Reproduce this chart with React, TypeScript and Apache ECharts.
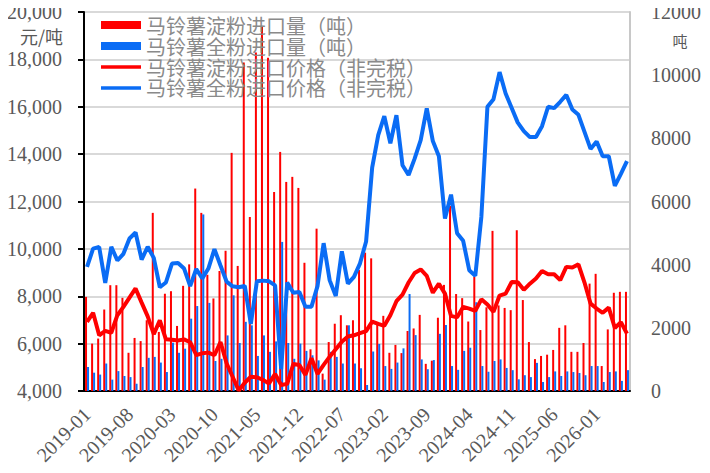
import React, { useEffect, useRef } from "react";
import * as echarts from "echarts";

// monthly categories 2019-01 .. 2026-06
const months: string[] = [];
for (let y = 2019; y <= 2026; y++) {
  for (let m = 1; m <= 12; m++) {
    if (months.length < 90) months.push(`${y}-${String(m).padStart(2, "0")}`);
  }
}

const nameStarchVol = "马铃薯淀粉进口量（吨）";
const nameFlakeVol = "马铃薯全粉进口量（吨）";
const nameStarchPrice = "马铃薯淀粉进口价格（非完税）";
const nameFlakePrice = "马铃薯全粉进口价格（非完税）";

// 吨 (right axis)
const starchVolume = [
  2980, 1500, 1660, 2580, 3350, 3350, 2950, 1210, 1680, 1580,
  2240, 5640, 1870, 3080, 3160, 2060, 3330, 4010, 6410, 5640,
  3680, 2930, 3800, 4440, 7540, 3960, 10400, 5510, 10720, 11530,
  10550, 6300, 7570, 6620, 6780, 6430, 4060, 1320, 5140, 550,
  1550, 2130, 2400, 2080, 2240, 3830, 4380, 4200, 2090, 2380,
  1210, 1460, 1200, 1900, 1980, 2410, 860, 960, 2320, 3360,
  5860, 3070, 2940, 2200, 3620, 1930, 2650, 5070, 2710, 2630,
  2560, 5090, 2880, 1550, 1010, 1110, 1150, 1300, 2000, 2080,
  1240, 1240, 1520, 3400, 3710, 790, 1950, 3110, 3140, 3140,
];
const flakeVolume = [
  760, 580, 520, 870, 360, 630, 475, 440, 230, 760,
  1050, 1080, 900, 600, 1530, 1210, 1340, 2290, 2690, 5590,
  2790, 950, 1020, 1760, 3030, 1520, 2190, 2080, 1110, 1760,
  1240, 1570, 4720, 1520, 1020, 1500, 1270, 1130, 970, 360,
  1240, 1080, 870, 2080, 870, 720, 190, 1250, 1490, 790,
  700, 900, 1350, 3070, 1770, 1000, 690, 980, 1810, 2090,
  790, 670, 1270, 1370, 2810, 790, 610, 950, 1000, 730,
  660, 370, 500, 440, 890, 285, 440, 620, 475, 620,
  600, 570, 500, 790, 790, 285, 600, 620, 320, 660,
];
// 元/吨 (left axis)
const starchPrice = [
  6920, 7300, 6350, 6540, 6460, 7200, 7550, 7940, 8330, 7730,
  7150, 6400, 6980, 6180, 6160, 6130, 6180, 6060, 5520, 5590,
  5620, 5510, 6070, 5170, 4600, 4020, 4350, 4600, 4580, 4470,
  4320, 4720, 4250, 4300, 5140, 5100, 4680, 5380, 4720, 5100,
  5450, 5760, 6080, 6300, 6350, 6440, 6530, 6930, 6830, 6750,
  7200, 7790, 8070, 8580, 8980, 9130, 8860, 8150, 8530, 8110,
  7170, 7110, 7550, 7480, 7380, 7870, 7650, 7340, 8030, 8110,
  8600, 8590, 8270, 8530, 8750, 9070, 8930, 8930, 8680, 9240,
  9210, 9350, 8580, 7690, 7480, 7300, 7520, 6660, 6910, 6420,
];
const flakePrice = [
  9240, 10010, 10080, 8560, 10090, 9510, 9790, 10440, 10690, 9550,
  10090, 9620, 8380, 8580, 9380, 9400, 9170, 8430, 9150, 8750,
  9170, 9990, 9300, 8620, 8420, 8380, 8440, 6830, 8630, 8660,
  8630, 8460, 4920, 8580, 8150, 8180, 7560, 7560, 8440, 10240,
  8670, 8010, 9900, 8530, 8820, 9390, 10310, 13430, 14800, 15600,
  14460, 15640, 13530, 13120, 13810, 14590, 15930, 14550, 13910, 11280,
  12290, 10660, 10340, 9100, 8860, 11350, 16000, 16320, 17460, 16560,
  15950, 15330, 14970, 14720, 14720, 15180, 16000, 15940, 16210, 16500,
  15880, 15660, 14940, 14220, 14530, 13910, 13910, 12660, 13170, 13700,
];

const RED = "#FF0000";
const BLUE = "#0A6CF5";
const LABEL = "#595959";
const SERIF = "Liberation Serif, serif";
const CJK = "Noto Sans CJK SC";
const LINE_ICON = "path://M0,0L40,0L40,3.5L0,3.5Z";

export default function App() {
  const ref = useRef<HTMLDivElement>(null);
  useEffect(() => {
    if (!ref.current) return;
    const chart = echarts.init(ref.current, undefined, { renderer: "svg" });
    chart.setOption({
      animation: false,
      backgroundColor: "#ffffff",
      grid: { left: 84, right: 80, top: 12, bottom: 82, containLabel: false },
      legend: {
        orient: "vertical",
        left: 96,
        top: 10,
        itemWidth: 40,
        itemHeight: 8,
        itemGap: 1,
        textStyle: { fontFamily: CJK, fontSize: 20, color: "#8a8a8a" },
        data: [
          { name: nameStarchVol, icon: "rect" },
          { name: nameFlakeVol, icon: "rect" },
          { name: nameStarchPrice, icon: LINE_ICON },
          { name: nameFlakePrice, icon: LINE_ICON },
        ],
      },
      graphic: [
        {
          type: "text",
          x: 63,
          y: 36,
          style: {
            text: "元/吨",
            fill: LABEL,
            fontFamily: CJK,
            fontSize: 18,
            align: "right",
            verticalAlign: "middle",
          },
        },
        {
          type: "text",
          x: 680,
          y: 40,
          style: {
            text: "吨",
            fill: LABEL,
            fontFamily: CJK,
            fontSize: 15,
            align: "center",
            verticalAlign: "middle",
          },
        },
      ],
      xAxis: {
        type: "category",
        data: months,
        boundaryGap: true,
        axisLine: { lineStyle: { color: "#000", width: 2 } },
        axisTick: { interval: 6, length: 6, lineStyle: { color: "#000", width: 2 } },
        axisLabel: {
          interval: 6,
          rotate: 45,
          margin: 20,
          fontFamily: SERIF,
          fontSize: 20,
          color: LABEL,
        },
        splitLine: { show: false },
      },
      yAxis: [
        {
          type: "value",
          min: 4000,
          max: 20000,
          interval: 2000,
          position: "left",
          axisLine: { show: true, lineStyle: { color: "#000", width: 2 } },
          axisTick: { show: true, length: 6, lineStyle: { color: "#000", width: 2 } },
          axisLabel: {
            margin: 22,
            fontFamily: SERIF,
            fontSize: 20,
            color: LABEL,
            formatter: (v: number) => v.toLocaleString("en-US"),
          },
          splitLine: { lineStyle: { color: "#d9d9d9", width: 2 } },
        },
        {
          type: "value",
          min: 0,
          max: 12000,
          interval: 2000,
          position: "right",
          axisLine: { show: true, lineStyle: { color: "#c8c8c8", width: 2 } },
          axisTick: { show: false },
          axisLabel: {
            margin: 21,
            fontFamily: SERIF,
            fontSize: 20,
            color: LABEL,
            formatter: (v: number) => String(v),
          },
          splitLine: { show: false },
        },
      ],
      series: [
        {
          name: nameStarchVol,
          type: "bar",
          yAxisIndex: 1,
          data: starchVolume,
          barWidth: 2,
          barGap: "0%",
          itemStyle: { color: RED },
        },
        {
          name: nameFlakeVol,
          type: "bar",
          yAxisIndex: 1,
          data: flakeVolume,
          barWidth: 2,
          barGap: "0%",
          itemStyle: { color: BLUE },
        },
        {
          name: nameStarchPrice,
          type: "line",
          yAxisIndex: 0,
          data: starchPrice,
          symbol: "none",
          lineStyle: { color: RED, width: 4 },
          itemStyle: { color: RED },
        },
        {
          name: nameFlakePrice,
          type: "line",
          yAxisIndex: 0,
          data: flakePrice,
          symbol: "none",
          lineStyle: { color: BLUE, width: 4 },
          itemStyle: { color: BLUE },
        },
      ],
    });
    return () => chart.dispose();
  }, []);
  return <div ref={ref} style={{ width: 710, height: 473, margin: -8 }} />;
}
